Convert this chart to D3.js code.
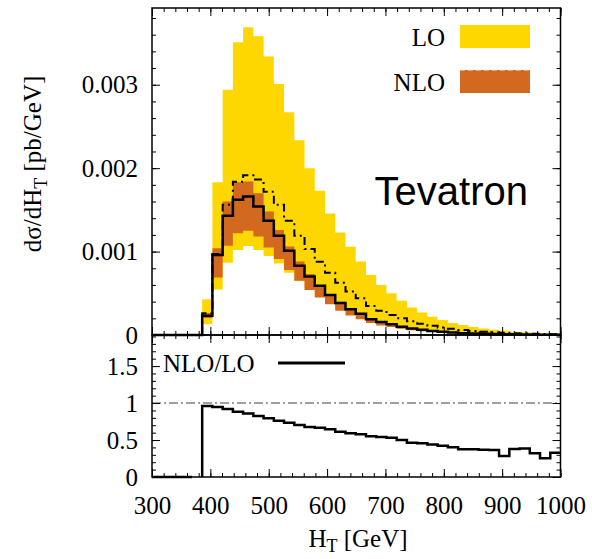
<!DOCTYPE html>
<html>
<head>
<meta charset="utf-8">
<script src="https://cdn.jsdelivr.net/npm/d3@7"></script>
<style>
  body { margin: 0; background: #fff; }
  text { fill: #000; }
  .tick line { stroke: #000; stroke-width: 1; }
</style>
</head>
<body>
<div id="vis"></div>
<script>
// bin edges in GeV (first bin starts where the LO distribution switches on)
var binEdges = [386, 403.5, 421.1, 438.6, 456.1, 473.7, 491.2, 508.8, 526.3, 543.9,
    561.4, 578.9, 596.5, 614, 631.6, 649.1, 666.7, 684.2, 701.8, 719.3,
    736.8, 754.4, 771.9, 789.5, 807, 824.6, 842.1, 859.6, 877.2, 894.7,
    912.3, 929.8, 947.4, 964.9, 982.5, 1000];

// dsigma/dHT in units of 1e-3 pb/GeV
var loUpper = [0.43, 1.83, 2.94, 3.51, 3.69, 3.58, 3.34, 3.01, 2.67, 2.335,
    2.0, 1.728, 1.457, 1.23, 1.057, 0.88, 0.72, 0.60, 0.50, 0.41,
    0.33, 0.27, 0.22, 0.18, 0.145, 0.12, 0.095, 0.077, 0.062, 0.05,
    0.04, 0.032, 0.026, 0.021, 0.017];
var loCentral = [0.26, 0.97, 1.56, 1.836, 1.916, 1.864, 1.717, 1.56, 1.37, 1.19,
    1.03, 0.878, 0.746, 0.627, 0.52, 0.44, 0.347, 0.29, 0.24, 0.2,
    0.165, 0.135, 0.11, 0.09, 0.075, 0.06, 0.048, 0.04, 0.032, 0.026,
    0.021, 0.017, 0.014, 0.011, 0.009];
var loLower = [0.13, 0.545, 0.866, 1.02, 1.066, 1.02, 0.946, 0.858, 0.745, 0.65,
    0.565, 0.48, 0.405, 0.34, 0.285, 0.235, 0.19, 0.155, 0.125, 0.10,
    0.082, 0.066, 0.054, 0.044, 0.036, 0.029, 0.023, 0.019, 0.015, 0.012,
    0.01, 0.008, 0.0065, 0.005, 0.004];
var nloUpper = [0.265, 1.04, 1.60, 1.83, 1.84, 1.70, 1.48, 1.26, 1.06, 0.88,
    0.73, 0.60, 0.49, 0.40, 0.32, 0.26, 0.20, 0.165, 0.135, 0.105,
    0.083, 0.066, 0.052, 0.041, 0.032, 0.024, 0.019, 0.016, 0.013, 0.009,
    0.009, 0.007, 0.005, 0.0035, 0.0035];
var nloCentral = [0.23, 0.96, 1.43, 1.62, 1.66, 1.54, 1.37, 1.19, 1.01, 0.83,
    0.70, 0.59, 0.48, 0.385, 0.31, 0.255, 0.19, 0.155, 0.128, 0.10,
    0.077, 0.062, 0.049, 0.038, 0.03, 0.022, 0.018, 0.015, 0.012, 0.0075,
    0.008, 0.0066, 0.0045, 0.0028, 0.003];
var nloLower = [0.205, 0.69, 1.07, 1.22, 1.25, 1.18, 1.05, 0.91, 0.78, 0.65,
    0.54, 0.45, 0.37, 0.29, 0.235, 0.19, 0.145, 0.115, 0.095, 0.075,
    0.058, 0.046, 0.036, 0.028, 0.022, 0.016, 0.013, 0.011, 0.009, 0.006,
    0.006, 0.005, 0.0033, 0.002, 0.0022];

// NLO/LO ratio per bin
var ratio = [0.959, 0.946, 0.919, 0.883, 0.86, 0.824, 0.793, 0.761, 0.734, 0.703,
    0.676, 0.667, 0.644, 0.613, 0.59, 0.577, 0.55, 0.54, 0.532, 0.5,
    0.464, 0.455, 0.441, 0.423, 0.401, 0.374, 0.374, 0.37, 0.365, 0.284,
    0.378, 0.387, 0.32, 0.252, 0.329];
// empty bins below threshold where the ratio was set to 0
var ratioZeroRange = [300, 368.4];

var xTicks = [300, 400, 500, 600, 700, 800, 900, 1000];
var yTopTicks = [0, 1, 2, 3];
var yTopLabels = ["0", "0.001", "0.002", "0.003"];
var yRatioTicks = [0, 0.5, 1, 1.5];
var yRatioLabels = ["0", "0.5", "1", "1.5"];

var width = 592, height = 559;
var pLeft = 152, pRight = 560.5, pTop = 8, pMid = 335, pBottom = 477;

var svg = d3.select("#vis").append("svg")
    .attr("width", width)
    .attr("height", height)
    .style("background", "#fff");

var x = d3.scaleLinear().domain([300, 1000]).range([pLeft, pRight]);
var yTop = d3.scaleLinear().domain([0, 3.92]).range([pMid, pTop]);
var yRatio = d3.scaleLinear().domain([0, 1.92]).range([pBottom, pMid]);

// step points: value of bin i from edge i, last edge repeats last value
function steps(vals) {
    var pts = vals.map(function(v, i) { return { x: binEdges[i], v: v }; });
    pts.push({ x: binEdges[binEdges.length - 1], v: vals[vals.length - 1] });
    return pts;
}
function bandSteps(lo, hi) {
    var pts = lo.map(function(v, i) { return { x: binEdges[i], lo: v, hi: hi[i] }; });
    pts.push({ x: binEdges[binEdges.length - 1], lo: lo[lo.length - 1], hi: hi[hi.length - 1] });
    return pts;
}

var band = d3.area()
    .curve(d3.curveStepAfter)
    .x(function(d) { return x(d.x); })
    .y0(function(d) { return yTop(d.lo); })
    .y1(function(d) { return yTop(d.hi); });

var topLine = d3.line()
    .curve(d3.curveStepAfter)
    .x(function(d) { return x(d.x); })
    .y(function(d) { return yTop(d.v); });

var ratioLine = d3.line()
    .curve(d3.curveStepAfter)
    .x(function(d) { return x(d.x); })
    .y(function(d) { return yRatio(d.v); });

// bands
svg.append("path")
    .datum(bandSteps(loLower, loUpper))
    .attr("fill", "#ffd700")
    .attr("d", band);
svg.append("path")
    .datum(bandSteps(nloLower, nloUpper))
    .attr("fill", "#d2691e")
    .attr("d", band);

// LO central, dash-dot
var loPts = [{ x: binEdges[0], v: 0 }].concat(steps(loCentral));
svg.append("path")
    .datum(loPts)
    .attr("fill", "none")
    .attr("stroke", "#000")
    .attr("stroke-width", 2)
    .attr("stroke-dasharray", "8,4,2,4")
    .attr("d", topLine);

// NLO central, solid
var nloPts = [{ x: 300, v: 0 }].concat(steps(nloCentral));
svg.append("path")
    .datum(nloPts)
    .attr("fill", "none")
    .attr("stroke", "#000")
    .attr("stroke-width", 2.5)
    .attr("d", topLine);

// ratio = 1 reference
svg.append("line")
    .attr("x1", x(300)).attr("x2", x(1000))
    .attr("y1", yRatio(1)).attr("y2", yRatio(1))
    .attr("stroke", "#808080")
    .attr("stroke-width", 1.5)
    .attr("stroke-dasharray", "9,3,2,3");

// ratio line
svg.append("path")
    .datum([{ x: ratioZeroRange[0], v: 0 }, { x: ratioZeroRange[1], v: 0 }])
    .attr("fill", "none").attr("stroke", "#000").attr("stroke-width", 2.5)
    .attr("d", ratioLine);
svg.append("path")
    .datum([{ x: binEdges[0], v: 0 }].concat(steps(ratio)))
    .attr("fill", "none").attr("stroke", "#000").attr("stroke-width", 2.5)
    .attr("d", ratioLine);

// axes, ticks inward on all sides
var serif = "'Liberation Serif', 'Times New Roman', serif";
var minorX = d3.range(300, 1001, 20);

function addAxis(axis, tx, ty) {
    var g = svg.append("g")
        .attr("transform", "translate(" + tx + "," + ty + ")")
        .call(axis);
    g.select(".domain").remove();
    g.selectAll("text").style("font-family", serif).style("font-size", "25px");
    return g;
}

// x ticks
[pMid, pBottom].forEach(function(yy) {
    addAxis(d3.axisBottom(x).tickValues(minorX).tickSize(-4).tickFormat(""), 0, yy);
});
addAxis(d3.axisBottom(x).tickValues(xTicks).tickSize(-8).tickFormat(""), 0, pMid);
addAxis(d3.axisBottom(x).tickValues(xTicks).tickSize(-8).tickPadding(19)
    .tickFormat(function(d) { return d; }), 0, pBottom);
[pTop, pMid].forEach(function(yy) {
    addAxis(d3.axisTop(x).tickValues(minorX).tickSize(-4).tickFormat(""), 0, yy);
    addAxis(d3.axisTop(x).tickValues(xTicks).tickSize(-8).tickFormat(""), 0, yy);
});

// top panel y ticks
var minorTop = d3.range(0, 3.9, 0.2);
addAxis(d3.axisLeft(yTop).tickValues(minorTop).tickSize(-4).tickFormat(""), pLeft, 0);
addAxis(d3.axisRight(yTop).tickValues(minorTop).tickSize(-4).tickFormat(""), pRight, 0);
addAxis(d3.axisRight(yTop).tickValues(yTopTicks).tickSize(-8).tickFormat(""), pRight, 0);
addAxis(d3.axisLeft(yTop).tickValues(yTopTicks).tickSize(-8).tickPadding(14)
    .tickFormat(function(d, i) { return yTopLabels[i]; }), pLeft, 0);

// ratio panel y ticks
var minorRatio = d3.range(0, 1.91, 0.1);
addAxis(d3.axisLeft(yRatio).tickValues(minorRatio).tickSize(-4).tickFormat(""), pLeft, 0);
addAxis(d3.axisRight(yRatio).tickValues(minorRatio).tickSize(-4).tickFormat(""), pRight, 0);
addAxis(d3.axisRight(yRatio).tickValues(yRatioTicks).tickSize(-8).tickFormat(""), pRight, 0);
addAxis(d3.axisLeft(yRatio).tickValues(yRatioTicks).tickSize(-8).tickPadding(14)
    .tickFormat(function(d, i) { return yRatioLabels[i]; }), pLeft, 0);

// frames
svg.append("rect")
    .attr("x", pLeft).attr("y", pTop)
    .attr("width", pRight - pLeft).attr("height", pMid - pTop)
    .attr("fill", "none").attr("stroke", "#000").attr("stroke-width", 1.5);
svg.append("rect")
    .attr("x", pLeft).attr("y", pMid)
    .attr("width", pRight - pLeft).attr("height", pBottom - pMid)
    .attr("fill", "none").attr("stroke", "#000").attr("stroke-width", 1.5);

// legend
var legend = svg.append("g").style("font-family", serif).style("font-size", "25px");
legend.append("text").attr("x", 445).attr("y", 46).attr("text-anchor", "end").text("LO");
legend.append("rect").attr("x", 460).attr("y", 25).attr("width", 70).attr("height", 23)
    .attr("fill", "#ffd700");
legend.append("text").attr("x", 445).attr("y", 91).attr("text-anchor", "end").text("NLO");
legend.append("rect").attr("x", 460).attr("y", 70).attr("width", 70).attr("height", 23)
    .attr("fill", "#d2691e");
legend.append("line").attr("x1", 460).attr("x2", 530).attr("y1", 70.5).attr("y2", 70.5)
    .attr("stroke", "#eaa27a").attr("stroke-width", 1).attr("stroke-dasharray", "5,3");

legend.append("text").attr("x", 163).attr("y", 372).text("NLO/LO");
legend.append("line").attr("x1", 278).attr("x2", 345).attr("y1", 363).attr("y2", 363)
    .attr("stroke", "#000").attr("stroke-width", 3);

svg.append("text")
    .attr("x", 528).attr("y", 205)
    .attr("text-anchor", "end")
    .style("font-family", "'Liberation Sans', Arial, sans-serif")
    .style("font-size", "40px")
    .text("Tevatron");

// axis titles
var xt = svg.append("text")
    .attr("x", 358).attr("y", 547)
    .attr("text-anchor", "middle")
    .style("font-family", serif).style("font-size", "25px");
xt.append("tspan").text("H");
xt.append("tspan").attr("dy", 5).style("font-size", "18px").text("T");
xt.append("tspan").attr("dy", -5).text(" [GeV]");

var yt = svg.append("text")
    .attr("transform", "translate(41,164) rotate(-90)")
    .attr("text-anchor", "middle")
    .style("font-family", serif).style("font-size", "25px");
yt.append("tspan").text("dσ/dH");
yt.append("tspan").attr("dy", 6).style("font-size", "18px").text("T");
yt.append("tspan").attr("dy", -6).text(" [pb/GeV]");
</script>
</body>
</html>
